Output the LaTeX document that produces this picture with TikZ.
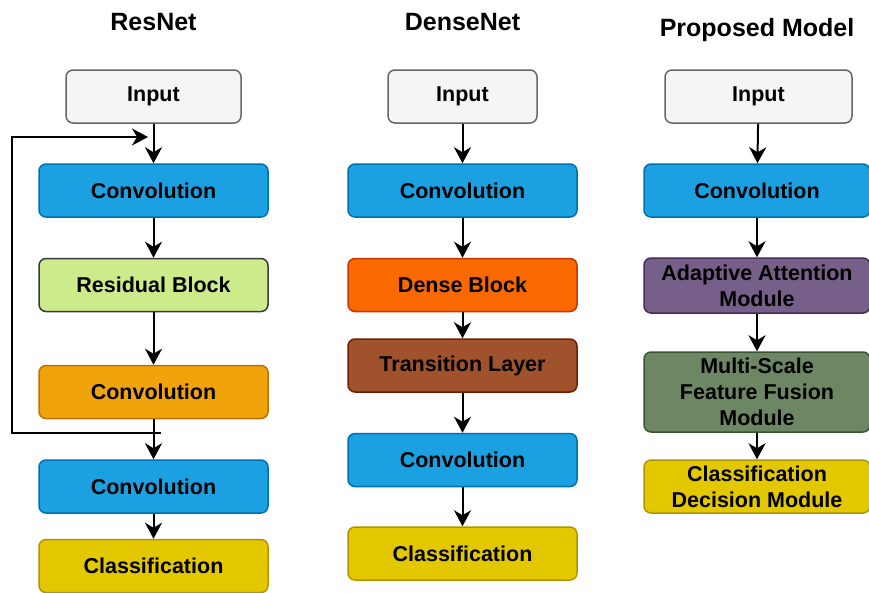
\documentclass[tikz,border=0pt]{standalone}
\usepackage{fontspec}
\setmainfont{Liberation Sans}
\usetikzlibrary{arrows.meta}
\definecolor{inF}{HTML}{F5F5F5}\definecolor{inD}{HTML}{666666}
\definecolor{blF}{HTML}{1BA1E2}\definecolor{blD}{HTML}{006EAF}
\definecolor{grF}{HTML}{CDEB8B}\definecolor{grD}{HTML}{36393D}
\definecolor{orF}{HTML}{F0A30A}\definecolor{orD}{HTML}{BD7000}
\definecolor{yeF}{HTML}{E3C800}\definecolor{yeD}{HTML}{B09500}
\definecolor{dbF}{HTML}{FA6800}\definecolor{dbD}{HTML}{C73500}
\definecolor{trF}{HTML}{A0522D}\definecolor{trD}{HTML}{6D1F00}
\definecolor{puF}{HTML}{76608A}\definecolor{puD}{HTML}{432D57}
\definecolor{ogF}{HTML}{6D8764}\definecolor{ogD}{HTML}{3A5431}
\begin{document}
\begin{tikzpicture}[x=1pt,y=-1pt,
  box/.style={rectangle, rounded corners=7pt, line width=1.5pt, align=center,
    font=\fontsize{21.5}{26}\selectfont\bfseries, inner sep=0pt,
    minimum width=229pt, minimum height=53pt},
  inbox/.style={box, fill=inF, draw=inD, minimum width=175pt},
  conv/.style={box, fill=blF, draw=blD},
  title/.style={font=\fontsize{25}{30}\selectfont\bfseries},
  tipa/.tip={Stealth[length=16pt,width=17pt,inset=5pt]},
  arr/.style={line width=2pt, -tipa}]
\useasboundingbox (0,0) rectangle (869,592);
% titles
\node[title] (t1) at (153.5,22) {ResNet};
\node[title] (t2) at (462.5,22) {DenseNet};
\node[title] (t3) at (757,30) {Proposed Model};
% ResNet
\node[inbox] (r0) at (153.5,96.5) {Input};
\node[conv] (r1) at (153.5,190.5) {Convolution};
\node[box, fill=grF, draw=grD] (r2) at (153.5,285) {Residual Block};
\node[box, fill=orF, draw=orD] (r3) at (153.5,392) {Convolution};
\node[conv] (r4) at (153.5,486.5) {Convolution};
\node[box, fill=yeF, draw=yeD] (r5) at (153.5,566) {Classification};
\draw[arr] (r0) -- (r1);
\draw[arr] (r1) -- (r2);
\draw[arr] (r2) -- (r3);
\draw[arr] (r3) -- (r4);
\draw[arr] (r4) -- (r5);
\coordinate (sb) at (161,433);
\coordinate (st) at (148,137);
\draw[arr] (sb) -- (12,433) -- (12,137) -- (st);
% DenseNet
\node[inbox, minimum width=149pt] (d0) at (462.5,96.5) {Input};
\node[conv] (d1) at (462.5,190.5) {Convolution};
\node[box, fill=dbF, draw=dbD] (d2) at (462.5,285) {Dense Block};
\node[box, fill=trF, draw=trD] (d3) at (462.5,365.5) {Transition Layer};
\node[conv] (d4) at (462.5,460) {Convolution};
\node[box, fill=yeF, draw=yeD] (d5) at (462.5,553.5) {Classification};
\draw[arr] (d0) -- (d1);
\draw[arr] (d1) -- (d2);
\draw[arr] (d2) -- (d3);
\draw[arr] (d3) -- (d4);
\draw[arr] (d4) -- (d5);
% Proposed
\node[inbox, minimum width=187pt] (p0) at (758.5,96.5) {Input};
\node[conv, minimum width=226pt] (p1) at (757,190.5) {Convolution};
\node[box, fill=puF, draw=puD, minimum width=226pt, minimum height=55pt] (p2) at (757,285.5) {Adaptive Attention\\Module};
\node[box, fill=ogF, draw=ogD, minimum width=226pt, minimum height=80pt] (p3) at (757,392) {Multi-Scale\\Feature Fusion\\Module};
\node[box, fill=yeF, draw=yeD, minimum width=226pt] (p4) at (757,486.5) {Classification\\Decision Module};
\draw[arr] (p0) -- (p1);
\draw[arr] (p1) -- (p2);
\draw[arr] (p2) -- (p3);
\draw[arr] (p3) -- (p4);
\end{tikzpicture}
\end{document}
